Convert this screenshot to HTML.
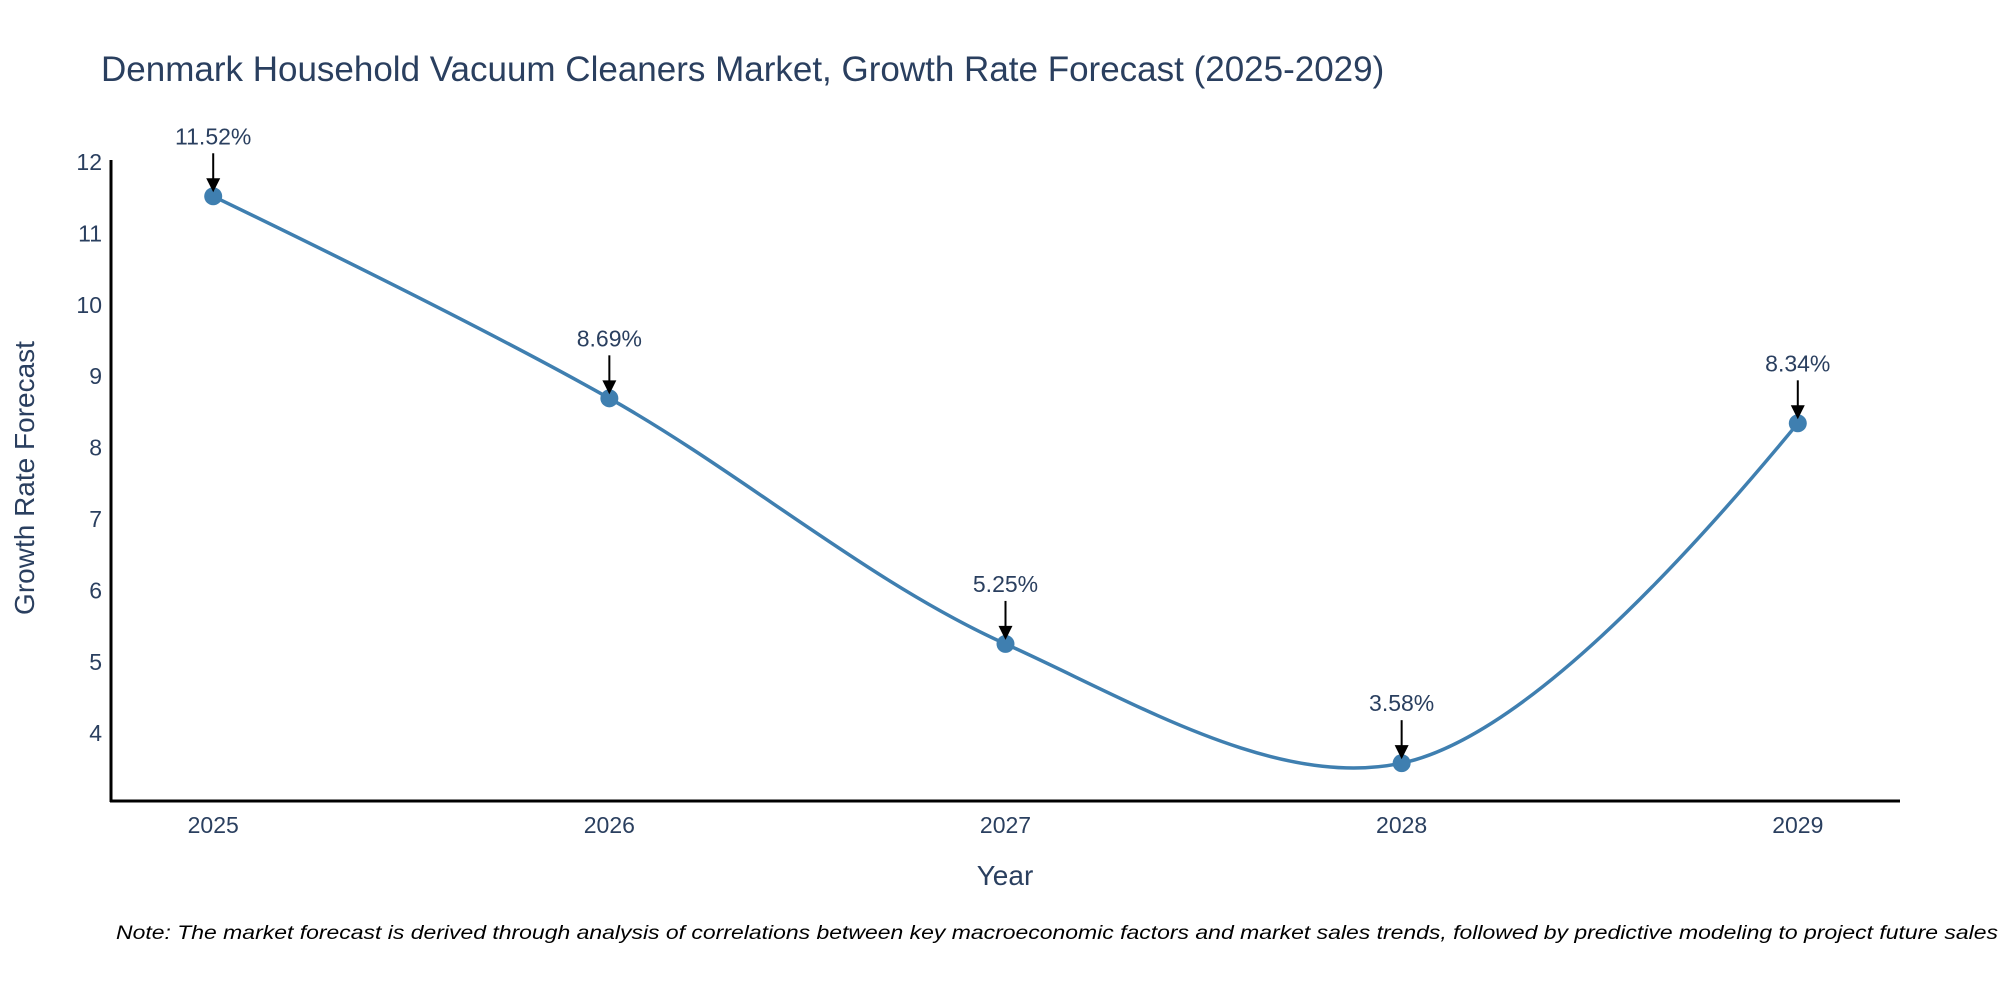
<!DOCTYPE html>
<html><head><meta charset="utf-8"><style>
body{margin:0;background:#fff}
svg{display:block;font-family:"Liberation Sans","DejaVu Sans",sans-serif}
</style></head><body>
<svg id="chart" width="2000" height="1000" viewBox="0 0 2000 1000">
<text x="101" y="81" font-size="35" fill="#2a3f5f">Denmark Household Vacuum Cleaners Market, Growth Rate Forecast (2025-2029)</text>
<g id="yticks"></g>
<g id="xticks"></g>
<line x1="111" y1="160" x2="111" y2="802" stroke="#000" stroke-width="3"/>
<line x1="110" y1="801" x2="1900" y2="801" stroke="#000" stroke-width="3"/>
<path id="line" fill="none" stroke="#3f7fb0" stroke-width="3.5"/>
<g id="points"></g>
<g id="annos"></g>
<text transform="translate(34,478) rotate(-90)" text-anchor="middle" font-size="28" fill="#2a3f5f">Growth Rate Forecast</text>
<text x="1005" y="885" text-anchor="middle" font-size="28" fill="#2a3f5f">Year</text>
<text x="116" y="939" font-size="19" font-style="italic" fill="#000" textLength="1882" lengthAdjust="spacingAndGlyphs">Note: The market forecast is derived through analysis of correlations between key macroeconomic factors and market sales trends, followed by predictive modeling to project future sales</text>
</svg>
<script>
const years = [2025, 2026, 2027, 2028, 2029];
const values = [11.52, 8.69, 5.25, 3.58, 8.34];
const labels = ["11.52%", "8.69%", "5.25%", "3.58%", "8.34%"];
const yTickValues = [4, 5, 6, 7, 8, 9, 10, 11, 12];

const NS = "http://www.w3.org/2000/svg";
const xScale = v => 111 + (v - 2024.742) / (2029.258 - 2024.742) * (1900 - 111);
const yScale = v => 801 - (v - 3.05) / (12 - 3.05) * (801 - 162);
function mk(tag, attrs, parent) {
  const e = document.createElementNS(NS, tag);
  for (const k in attrs) e.setAttribute(k, attrs[k]);
  parent.appendChild(e); return e;
}
const yt = document.getElementById('yticks');
yTickValues.forEach(v => {
  const t = mk('text', {x: 102, y: yScale(v) + 8, 'text-anchor': 'end', 'font-size': 23, fill: '#2a3f5f'}, yt);
  
  
  t.textContent = v;
});
const xt = document.getElementById('xticks');
years.forEach(v => {
  const t = mk('text', {x: xScale(v), y: 833, 'text-anchor': 'middle', 'font-size': 23, fill: '#2a3f5f'}, xt);
  
  
  t.textContent = v;
});
const pts = years.map((y, i) => [xScale(y), yScale(values[i])]);
function tang(p, c, n, s) {
  const d1x = p[0]-c[0], d1y = p[1]-c[1], d2x = n[0]-c[0], d2y = n[1]-c[1];
  const d1a = Math.pow(d1x*d1x+d1y*d1y, 0.25), d2a = Math.pow(d2x*d2x+d2y*d2y, 0.25);
  const nx = (d2a*d2a*d1x - d1a*d1a*d2x)*s, ny = (d2a*d2a*d1y - d1a*d1a*d2y)*s;
  const den1 = 3*d2a*(d1a+d2a), den2 = 3*d1a*(d1a+d2a);
  return [[c[0]+nx/den1, c[1]+ny/den1], [c[0]-nx/den2, c[1]-ny/den2]];
}
const tg = [];
for (let i = 1; i < pts.length-1; i++) tg.push(tang(pts[i-1], pts[i], pts[i+1], 1));
let d = 'M' + pts[0] + 'Q' + tg[0][0] + ' ' + pts[1];
for (let i = 2; i < pts.length-1; i++) d += 'C' + tg[i-2][1] + ' ' + tg[i-1][0] + ' ' + pts[i];
d += 'Q' + tg[pts.length-3][1] + ' ' + pts[pts.length-1];
document.getElementById('line').setAttribute('d', d);
const pg = document.getElementById('points'), ag = document.getElementById('annos');
pts.forEach((p, i) => {
  const c = mk('circle', {cx: p[0], cy: p[1], r: 9, fill: '#3f7fb0'}, pg);
  
  
  const l = mk('line', {x1: p[0], y1: p[1]-43, x2: p[0], y2: p[1]-16, stroke: '#000', 'stroke-width': 2}, ag);
  
  
  const h = mk('path', {d: `M${p[0]-7},${p[1]-18}L${p[0]+7},${p[1]-18}L${p[0]},${p[1]-4}Z`, fill: '#000'}, ag);
  
  
  const t = mk('text', {x: p[0], y: p[1]-52, 'text-anchor': 'middle', 'font-size': 23, fill: '#2a3f5f'}, ag);
  
  
  t.textContent = labels[i];
});
</script>
</body></html>
